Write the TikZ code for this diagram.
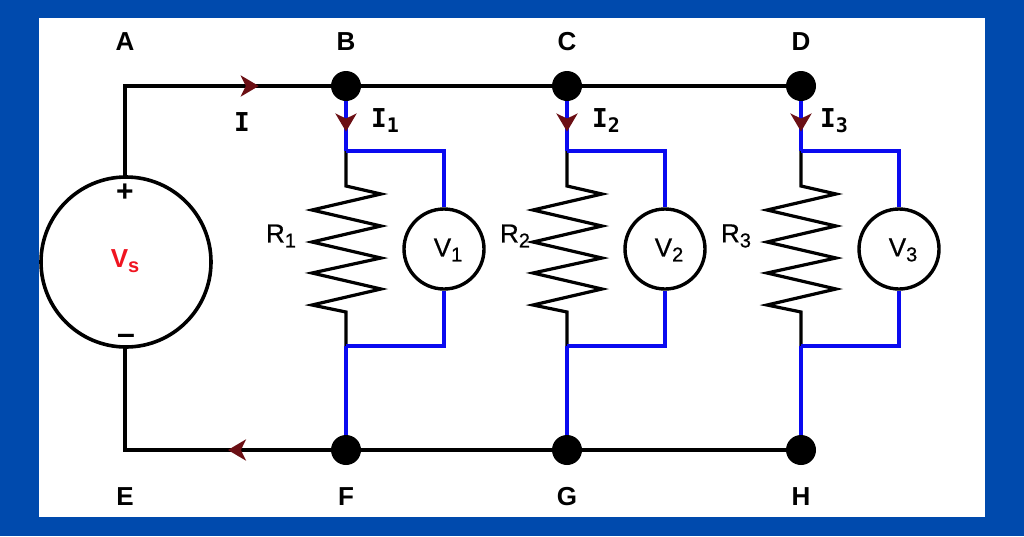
\documentclass[tikz,border=0pt]{standalone}
\usepackage{fontspec}
\setmainfont{Liberation Sans}
\newfontfamily\slabfont{DejaVu Sans Mono}
\newfontfamily\semifont[FakeBold=0.6]{Liberation Sans}
\usetikzlibrary{arrows.meta,decorations.markings}
\definecolor{framecol}{HTML}{004AAD}
\definecolor{tipcol}{HTML}{6B0F14}
\definecolor{wireblue}{HTML}{0A0AF0}
\definecolor{srccol}{HTML}{F01420}
\newcommand{\lowidx}[1]{\raisebox{-5pt}{\fontsize{20}{20}\selectfont #1}}
\tikzset{
	wire/.style={line width=3.2pt,black},
	bluewire/.style={line width=3.6pt,wireblue},
	dot/.style={circle,fill=black,inner sep=0pt,minimum size=30pt},
	meter/.style={circle,draw=black,fill=white,line width=3.4pt,inner sep=0pt,minimum size=80pt},
	source/.style={circle,draw=black,fill=white,line width=3.6pt,inner sep=0pt,minimum size=170pt},
	letter/.style={font=\bfseries\fontsize{26}{26}\selectfont},
	rlabel/.style={font=\semifont\fontsize{26}{26}\selectfont},
	ilabel/.style={font=\slabfont\bfseries\fontsize{26}{26}\selectfont},
	flowtip/.style={postaction={decorate},decoration={markings,mark=at position #1 with {\arrow{Stealth[length=18pt,width=21pt,inset=5pt,color=tipcol]}}}}
}
\begin{document}
\begin{tikzpicture}[x=1pt,y=-1pt]
	\useasboundingbox (0,0) rectangle (1024,536);
	\fill[framecol] (0,0) rectangle (1024,536);
	\fill[white] (38.5,18) rectangle (985,517);

	% corners and source
	\coordinate (A) at (125,86);
	\coordinate (E) at (125,450);
	\node[source] (Vs) at (126,262) {};
	\node[font=\bfseries\fontsize{26}{26}\selectfont,text=srccol] (VsT) at (125,261) {V\lowidx{s}};
	\node[font=\bfseries\fontsize{30}{30}\selectfont] (plus) at (125,193) {+};
	\node[font=\bfseries\fontsize{32}{32}\selectfont] (minus) at (126,339) {--};

	% junctions
	\node[dot] (B) at (346,86) {};
	\node[dot] (C) at (567,86) {};
	\node[dot] (D) at (801,86) {};
	\node[dot] (F) at (346,450) {};
	\node[dot] (G) at (567,450) {};
	\node[dot] (H) at (801,450) {};

	% outer loop
	\draw[wire,line cap=rect] (Vs.north -| A) -- (A);
	\draw[wire,flowtip=0.65] (A) -- (B);
	\draw[wire] (B) -- (C);
	\draw[wire] (C) -- (D);
	\draw[wire,line cap=rect] (Vs.south -| E) -- (E);
	\draw[wire,flowtip=0.5] (F) -- (E);
	\draw[wire] (F) -- (G);
	\draw[wire] (G) -- (H);

	% branches
	\foreach \t/\b/\n/\x/\mx/\rx/\ix in {B/F/1/346/444/281/385,C/G/2/567/665/515/606,D/H/3/801/899/736/834}{
		\coordinate (up\n) at (\x,151);
		\coordinate (lo\n) at (\x,346);
		\coordinate (mu\n) at (\mx,151);
		\coordinate (ml\n) at (\mx,346);
		\node[meter] (V\n) at (\mx,249) {};
		\node[rlabel] (VT\n) at (\mx+4,250) {V\lowidx{\n}};
		\draw[wire,line join=miter] (up\n) -- (\x,186) -- ++(35,8) -- ++(-69,16) -- ++(69,16) -- ++(-69,16)
			-- ++(69,16) -- ++(-69,15) -- ++(69,16) -- ++(-69,16) -- (\x,312) -- (lo\n);
		\draw[bluewire,flowtip=0.61] (\t) -- (up\n);
		\draw[bluewire,line join=miter] (up\n) -- (mu\n) -- (V\n);
		\draw[bluewire,line join=miter] (V\n) -- (ml\n) -- (lo\n);
		\draw[bluewire] (lo\n) -- (\b);
		\node[rlabel] (R\n) at (\rx,236) {R\lowidx{\n}};
		\node[ilabel] (I\n) at (\ix,121) {I\lowidx{\n}};
	}

	% labels
	\node[ilabel] (I) at (242,122) {I};
	\node[letter] (lA) at (125,42) {A};
	\node[letter] (lB) at (346,42) {B};
	\node[letter] (lC) at (567,42) {C};
	\node[letter] (lD) at (801,42) {D};
	\node[letter] (lE) at (125,497) {E};
	\node[letter] (lF) at (346,497) {F};
	\node[letter] (lG) at (567,497) {G};
	\node[letter] (lH) at (801,497) {H};
\end{tikzpicture}
\end{document}
